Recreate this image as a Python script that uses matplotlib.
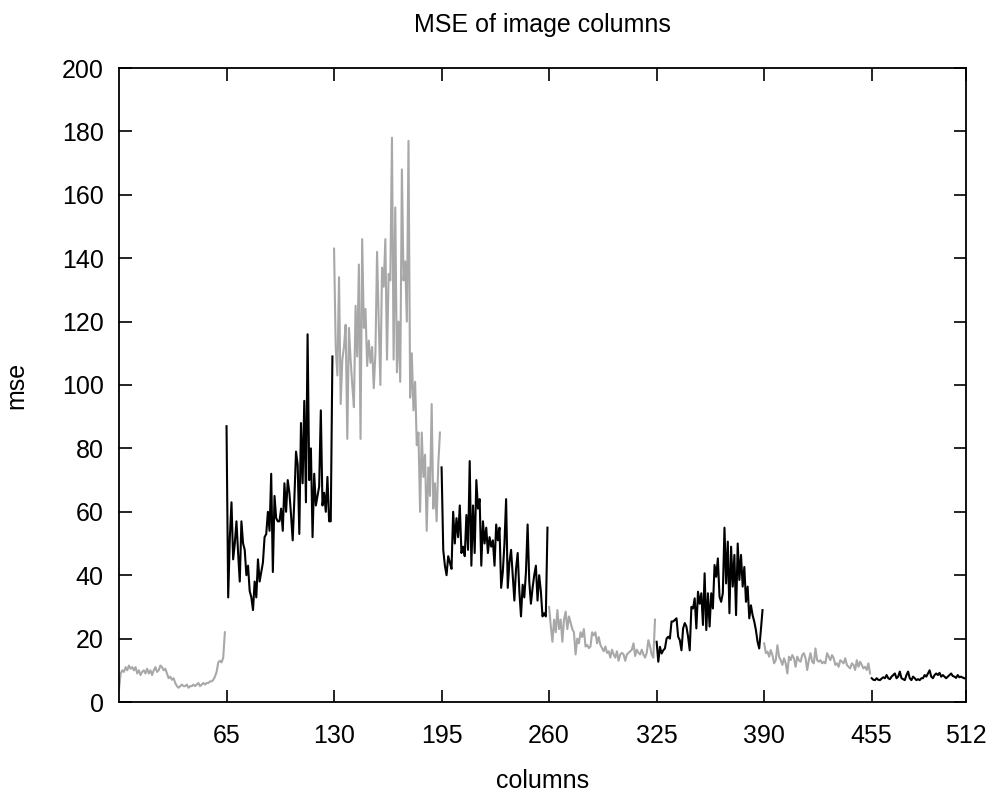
import numpy as np
import matplotlib
matplotlib.use('Agg')
import matplotlib.pyplot as plt

# MSE per image column, drawn in blocks of 65 columns (gray / black alternating)
seg_starts = [0, 65, 130, 195, 260, 325, 390, 455]

seg0 = [4, 9, 10, 9.5, 11, 10, 11.5, 10.5, 11, 10,
        11, 9, 10, 8.5, 9.5, 10, 9, 10.5, 9, 10,
        8.5, 10, 11, 9.5, 10, 11.5, 11, 10, 10.5, 9,
        7.5, 8, 7, 7.5, 6, 5, 4.5, 5, 5.5, 5,
        5, 5.5, 4.5, 5, 5, 5.5, 5, 5.5, 6, 5,
        5.5, 6, 5.5, 6, 6, 6.5, 6.5, 7, 8, 9.5,
        12.5, 13, 12.5, 14, 22]
seg1 = [87, 33, 52, 63, 45, 50, 57, 47, 38, 57,
        50, 48, 40, 43, 35, 33, 29, 38, 33, 45,
        38, 41, 44, 52, 53, 60, 54, 72, 41, 65,
        58, 57, 57, 61, 54, 69, 60, 70, 66, 59,
        51, 64, 79, 75, 53, 88, 69, 95, 63, 116,
        70, 80, 52, 72, 62, 65, 68, 92, 62, 66,
        60, 71, 57, 57, 109]
seg2 = [143, 112, 103, 134, 94, 108, 112, 119, 83, 118,
        108, 100, 93, 125, 109, 138, 83, 146, 118, 124,
        106, 114, 107, 112, 99, 110, 142, 120, 100, 137,
        131, 146, 108, 135, 133, 178, 108, 156, 104, 120,
        101, 168, 133, 139, 120, 177, 96, 110, 92, 101,
        81, 85, 60, 85, 71, 78, 54, 74, 65, 94,
        61, 69, 57, 75, 85]
seg3 = [74, 48, 43, 40, 46, 44, 42, 60, 50, 58,
        52, 62, 47, 49, 46, 59, 48, 76, 43, 62,
        47, 70, 61, 64, 43, 57, 50, 55, 47, 52,
        49, 51, 43, 56, 51, 55, 36, 41, 50, 64,
        36, 44, 48, 40, 32, 42, 47, 35, 27, 37,
        33, 41, 56, 38, 31, 36, 40, 43, 32, 40,
        35, 27, 28, 27, 55]
seg4 = [30, 24, 19, 26, 22, 29, 23, 26, 19, 26,
        28.5, 23, 27, 25, 23, 22, 15, 20, 18.5, 22,
        20.5, 23, 17.5, 18, 17, 17.5, 22, 21, 22, 18.5,
        20.5, 18, 17, 16, 17.5, 15.5, 16, 14, 16.5, 15,
        14, 16, 13, 15, 15.5, 15, 13, 15, 15.5, 16,
        16.5, 18.5, 14.5, 16.5, 15.5, 15, 16.5, 15, 14, 15.5,
        19.5, 17.5, 15, 14, 26]
seg5 = [19, 12.7, 17.4, 15.3, 16.3, 16.9, 20, 20.6, 20, 25.4,
        25.4, 25.9, 26.4, 20.6, 19.5, 16.3, 23.2, 24.9, 23.8, 20.6,
        16.3, 30, 29.5, 32.7, 23.2, 34.8, 31, 34.3, 24.3, 40.6,
        22.7, 34.3, 23.8, 34.3, 29.5, 43.2, 39.5, 45.3, 33.2, 31.6,
        34.3, 55, 37.4, 50.6, 28, 49, 36.4, 46.4, 27.4, 50,
        38.5, 46.4, 36.4, 42.6, 31.6, 36.4, 26.4, 30.5, 27.4, 25.4,
        22.7, 19, 16.9, 22.7, 29]
seg6 = [18.5, 15.4, 15.9, 14.3, 16.4, 14.8, 12.2, 13.2, 17.9, 14.3,
        13.2, 11.7, 13.8, 12.2, 9, 14.3, 13.2, 14.8, 13.8, 11.1,
        14.3, 13.2, 12.7, 14.8, 15.4, 13.8, 10.1, 13.2, 15.4, 12.7,
        12.2, 16.9, 13.2, 12.7, 13.2, 12.2, 12.7, 12.2, 15.4, 14.3,
        13.2, 14.8, 13.8, 11.7, 12.2, 11.1, 13.2, 12.7, 12.2, 13.8,
        11.7, 11.1, 10.6, 12.2, 11.7, 10.1, 13.2, 11.1, 12.7, 11.7,
        10.6, 11.1, 10.1, 12.2, 9]
seg7 = [7.5, 7, 6.9, 7.5, 7, 6.9, 7.4, 7.8, 7.5, 8.5,
        7.5, 7.2, 8, 8.5, 9, 7.5, 8, 9.6, 7.5, 7.2,
        6.9, 8.5, 9.6, 7.5, 6.9, 8, 7.5, 6.9, 7.2, 6.9,
        7.5, 7.5, 8.5, 8, 9, 10, 8, 7.5, 8.5, 9,
        8.5, 9.2, 8, 8.5, 8, 7.5, 8, 8.5, 9, 8.2,
        8, 7.6, 8.5, 7.8, 8, 7.7, 7.5]

segments = [seg0, seg1, seg2, seg3, seg4, seg5, seg6, seg7]
x_ticks = [65, 130, 195, 260, 325, 390, 455, 512]
y_ticks = list(range(0, 201, 20))

plt.rcParams['font.family'] = ['Liberation Sans', 'DejaVu Sans']

fig = plt.figure(figsize=(9.95, 7.95), dpi=100)
ax = fig.add_axes([119 / 995, 1 - 702 / 795, 847 / 995, 634 / 795])

for i, (start, vals) in enumerate(zip(seg_starts, segments)):
    color = '#a8a8a8' if i % 2 == 0 else 'black'
    ax.plot(np.arange(start, start + len(vals)), vals, color=color, lw=1.5)

ax.set_xlim(0, 512)
ax.set_ylim(0, 200)
ax.set_xticks(x_ticks)
ax.set_yticks(y_ticks)
ax.tick_params(direction='in', length=9, width=1.2, top=True, right=True,
               labelsize=18)
ax.tick_params(axis='x', pad=16)
ax.tick_params(axis='y', pad=11)
for sp in ax.spines.values():
    sp.set_linewidth(1.3)

ax.set_title('MSE of image columns', fontsize=18, pad=26)
ax.set_xlabel('columns', fontsize=18)
ax.set_ylabel('mse', fontsize=18)
ax.xaxis.set_label_coords(0.5, -0.105)
ax.yaxis.set_label_coords(-0.107, 0.5)

fig.savefig('out.png', dpi=100)
